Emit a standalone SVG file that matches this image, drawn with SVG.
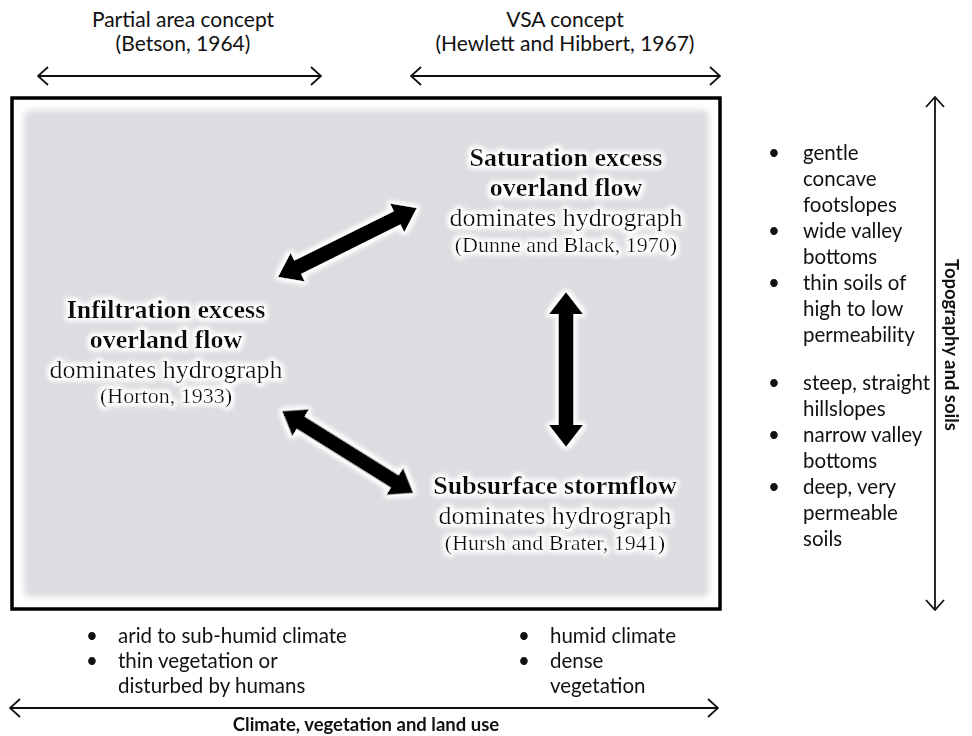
<svg xmlns="http://www.w3.org/2000/svg" width="972" height="736" viewBox="0 0 972 736">
<style>
.sans{font-family:Lato,"Liberation Sans",sans-serif;font-size:20.5px;fill:#111}
.top{font-family:Lato,"Liberation Sans",sans-serif;font-size:21px;fill:#111;text-anchor:middle}
.sansb{font-family:Lato,"Liberation Sans",sans-serif;font-size:18.5px;font-weight:bold;fill:#111;text-anchor:middle}
.ser{font-family:"Liberation Serif",serif;font-size:26px;fill:#111;text-anchor:middle}
.serb{font-family:"Liberation Serif",serif;font-size:26px;font-weight:bold;fill:#111;text-anchor:middle}
.cit{font-family:"Liberation Serif",serif;font-size:22px;fill:#111;text-anchor:middle}
.thin{fill:none;stroke:#111;stroke-width:1.8}
.blk{fill:#000}
</style>
<defs>
<filter id="glow" x="-20%" y="-30%" width="140%" height="160%">
<feMorphology in="SourceAlpha" operator="dilate" radius="2" result="d"/>
<feGaussianBlur in="d" stdDeviation="2.5" result="b"/>
<feFlood flood-color="#ffffff"/>
<feComposite in2="b" operator="in" result="w"/>
<feMerge><feMergeNode in="w"/><feMergeNode in="w"/><feMergeNode in="SourceGraphic"/></feMerge>
</filter>
<filter id="soft" x="-5%" y="-5%" width="110%" height="110%">
<feGaussianBlur stdDeviation="3"/>
</filter>
<marker id="open" viewBox="0 0 12 20" refX="11" refY="10" markerWidth="12" markerHeight="20" markerUnits="userSpaceOnUse" orient="auto-start-reverse">
<path d="M1,1 L11,10 L1,19" fill="none" stroke="#111" stroke-width="1.8"/>
</marker>
</defs>
<rect width="972" height="736" fill="#fff"/>

<g id="frame">
<rect x="12" y="98" width="708" height="511" fill="#fff" stroke="#000" stroke-width="3.5"/>
<rect x="24" y="110" width="685" height="487" rx="6" fill="#dcdde0" filter="url(#soft)"/>
</g>

<g id="top-labels">
<text class="top" x="183" y="27">Partial area concept</text>
<text class="top" x="183" y="51">(Betson, 1964)</text>
<text class="top" x="565" y="27">VSA concept</text>
<text class="top" x="565" y="51">(Hewlett and Hibbert, 1967)</text>
</g>

<g id="node-saturation" filter="url(#glow)">
<text class="serb" x="566" y="166">Saturation excess</text>
<text class="serb" x="566" y="196">overland flow</text>
<text class="ser" x="566" y="226">dominates hydrograph</text>
<text class="cit" x="566" y="252">(Dunne and Black, 1970)</text>
</g>

<g id="node-infiltration" filter="url(#glow)">
<text class="serb" x="166" y="318">Infiltration excess</text>
<text class="serb" x="166" y="348">overland flow</text>
<text class="ser" x="166" y="378">dominates hydrograph</text>
<text class="cit" x="166" y="403">(Horton, 1933)</text>
</g>

<g id="node-subsurface" filter="url(#glow)">
<text class="serb" x="555" y="494">Subsurface stormflow</text>
<text class="ser" x="555" y="524">dominates hydrograph</text>
<text class="cit" x="555" y="550">(Hursh and Brater, 1941)</text>
</g>

<g id="connectors">
<g filter="url(#glow)">
<polygon class="blk" transform="translate(278,277) rotate(-26.4)" points="0,0 22,-16 22,-7.5 133,-7.5 133,-16 155,0 133,16 133,7.5 22,7.5 22,16"/>
<polygon class="blk" transform="translate(282,411) rotate(32)" points="0,0 22,-16 22,-7.5 133,-7.5 133,-16 155,0 133,16 133,7.5 22,7.5 22,16"/>
<polygon class="blk" transform="translate(566,292) rotate(90)" points="0,0 22,-17 22,-7.5 133,-7.5 133,-17 155,0 133,17 133,7.5 22,7.5 22,17"/>
</g>
<line class="thin" x1="38" y1="76" x2="321" y2="76" marker-start="url(#open)" marker-end="url(#open)"/>
<line class="thin" x1="411" y1="76" x2="720" y2="76" marker-start="url(#open)" marker-end="url(#open)"/>
<line class="thin" x1="935" y1="97" x2="935" y2="610" marker-start="url(#open)" marker-end="url(#open)"/>
<line class="thin" x1="10" y1="708" x2="718" y2="708" marker-start="url(#open)" marker-end="url(#open)"/>
</g>

<g id="right-labels">
<text class="sans" x="768" y="160">•</text>
<text class="sans" x="803" y="160">gentle</text>
<text class="sans" x="803" y="186">concave</text>
<text class="sans" x="803" y="212">footslopes</text>
<text class="sans" x="768" y="238">•</text>
<text class="sans" x="803" y="238">wide valley</text>
<text class="sans" x="803" y="264">bottoms</text>
<text class="sans" x="768" y="290">•</text>
<text class="sans" x="803" y="290">thin soils of</text>
<text class="sans" x="803" y="316">high to low</text>
<text class="sans" x="803" y="342">permeability</text>
<text class="sans" x="768" y="390">•</text>
<text class="sans" x="803" y="390">steep, straight</text>
<text class="sans" x="803" y="416">hillslopes</text>
<text class="sans" x="768" y="442">•</text>
<text class="sans" x="803" y="442">narrow valley</text>
<text class="sans" x="803" y="468">bottoms</text>
<text class="sans" x="768" y="494">•</text>
<text class="sans" x="803" y="494">deep, very</text>
<text class="sans" x="803" y="520">permeable</text>
<text class="sans" x="803" y="546">soils</text>
<text class="sansb" transform="translate(945,345) rotate(90)">Topography and soils</text>
</g>

<g id="bottom-labels">
<text class="sans" x="86" y="643">•</text>
<text class="sans" x="118" y="643">arid to sub-humid climate</text>
<text class="sans" x="86" y="668">•</text>
<text class="sans" x="118" y="668">thin vegetation or</text>
<text class="sans" x="118" y="693">disturbed by humans</text>
<text class="sans" x="518" y="643">•</text>
<text class="sans" x="550" y="643">humid climate</text>
<text class="sans" x="518" y="668">•</text>
<text class="sans" x="550" y="668">dense</text>
<text class="sans" x="550" y="693">vegetation</text>
<text class="sansb" x="366" y="731">Climate, vegetation and land use</text>
</g>
</svg>
